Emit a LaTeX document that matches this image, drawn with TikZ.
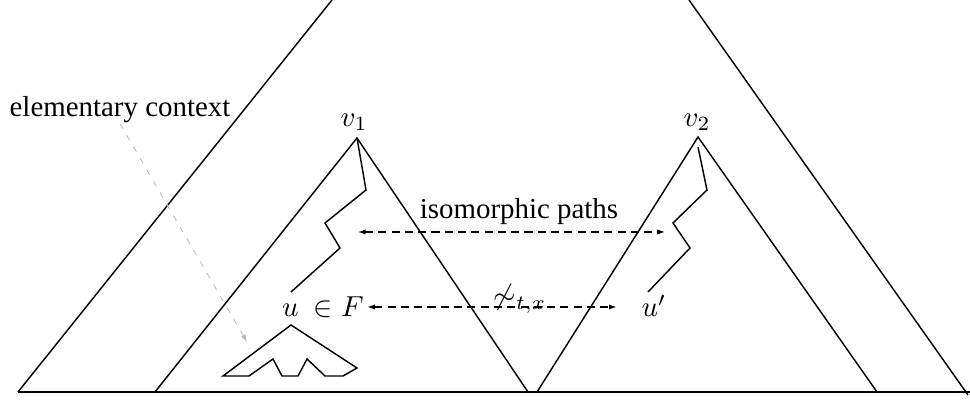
\documentclass[tikz,border=0pt]{standalone}
\usepackage{fontspec}
\setmainfont{Liberation Serif}
\usetikzlibrary{arrows.meta}

\begin{document}
\begin{tikzpicture}[x=.346pt,y=-.346pt,
  edge/.style={line width=.5pt},
  link/.style={dash pattern=on 2.8pt off 1.8pt,{Latex[length=2.6pt,width=1.8pt]}-{Latex[length=2.6pt,width=1.8pt]}},
  hint/.style={gray!55,line width=.3pt,dash pattern=on 2pt off 2.6pt,-{Latex[length=2.6pt,width=1.8pt]}}]
\useasboundingbox(0,0)rectangle(970,405);
% whole tree
\draw[line width=.75pt](18,392)--(970,392);
\draw[edge](18,392)--(332,0);\draw[edge](689,0)--(968,395);
% the two subtrees and their paths
\coordinate(r1)at(357,138);\coordinate(r2)at(698,137);
\draw[edge](155,392)--(r1)--(528,392);\draw[edge](537,392)--(r2)--(877,392);
\node(v1)at(354,122){$v_1$};\node(v2)at(697,122){$v_2$};
\draw[edge](r1)--(366,190)--(325,223)--(340,248)--(291,292);
\draw[edge](698,147)--(707,190)--(673,223)--(690,248)--(648,292);
\coordinate(p1)at(358,232);\coordinate(p2)at(665,232);
\node(iso)at(519,212){isomorphic paths};\draw[link](p1)--(p2);
% the two nodes
\node[inner sep=1pt](uF)at(323,307){$u\ \in F$};\node[inner sep=1pt](up)at(654,306){$u'$};
\draw[link,shorten >=7.5pt](uF.east)--(uF.east-|up.west);
\node(rel)at(520,299){$\not\sim_{t,x}$};
% elementary context
\draw[edge](291,325)--(223,376)--(249,376)--(273,359)--(282,376)--(298,376)--(307,359)--(325,376)--(343,376)--(357,368)--cycle;
\coordinate(ectip)at(247,342);
\node[inner sep=0pt](ec)at(120,110){elementary context};\draw[hint](ec.south)--(ectip);
\end{tikzpicture}
\end{document}
